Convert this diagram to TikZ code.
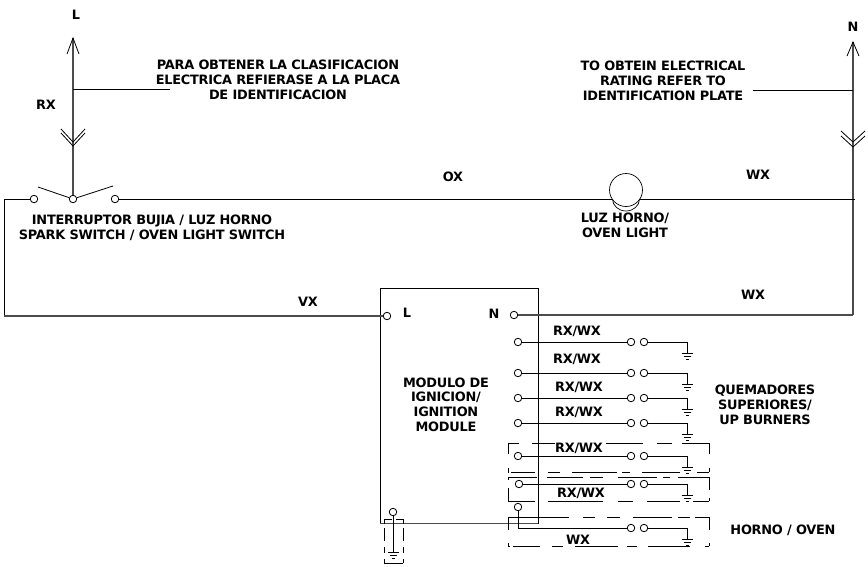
\documentclass[tikz,border=0pt]{standalone}
\usepackage{fontspec}
\setmainfont{DejaVu Sans}
\tikzset{
  etiqueta/.style={font=\bfseries\fontsize{12.9}{14.8}\selectfont\addfontfeatures{LetterSpace=-2},align=center,inner sep=0pt},
  borne/.style={shape=circle,draw=black,fill=white,line width=0.8pt,minimum size=7.5pt,inner sep=0pt},
  cable/.style={draw=black,line width=0.8pt},
  cablegrueso/.style={draw=black!70,line width=1.4pt},
  punteada/.style={draw=black,line width=0.7pt},
}
\newcommand{\tierra}[1]{\draw[cable] (#1) ++(-5.5,0) -- ++(11,0) (#1) ++(-3.5,3) -- ++(7,0) (#1) ++(-1.5,6) -- ++(3,0);}
\newcommand{\tramosH}[2]{\foreach \xa/\xb in {#2}{\draw[punteada] (\xa,#1) -- (\xb,#1);}}
\newcommand{\tramosV}[2]{\foreach \ya/\yb in {#2}{\draw[punteada] (#1,\ya) -- (#1,\yb);}}
\begin{document}
\begin{tikzpicture}[x=1pt,y=-1pt]
  \useasboundingbox (0,0) rectangle (868,566);

  % linea superior
  \node[borne] (contactoIzq) at (34,199) {};
  \node[borne] (contactoCentro) at (73,199) {};
  \node[borne] (contactoDer) at (115,199) {};
  \coordinate (puntaL) at (73,38);
  \coordinate (puntaN) at (853,42);
  \coordinate (esquinaIzqSup) at (4,199);
  \coordinate (esquinaIzqInf) at (4,316);
  \coordinate (esquinaDerSup) at (855,199);
  \coordinate (esquinaDerInf) at (853,315);
  \coordinate (lamparaIzq) at (612.5,199);
  \coordinate (lamparaDer) at (639.5,199);
  \node[shape=circle,draw=black,line width=0.7pt,minimum size=33pt,inner sep=0pt] (lampara) at (626,190) {};

  \node[etiqueta] (textoL) at (76,15) {L};
  \node[etiqueta] (textoN) at (853,27) {N};
  \node[etiqueta] (textoRX) at (46,105) {RX};
  \node[etiqueta] (textoOX) at (453,177) {OX};
  \node[etiqueta] (textoWXa) at (758,175) {WX};
  \node[etiqueta] (textoWXb) at (753,295) {WX};
  \node[etiqueta] (textoVX) at (308,302) {VX};
  \node[etiqueta] (placaES) at (278,80) {PARA OBTENER LA CLASIFICACION\\ELECTRICA REFIERASE A LA PLACA\\DE IDENTIFICACION};
  \node[etiqueta] (placaEN) at (663,81) {TO OBTEIN ELECTRICAL\\RATING REFER TO\\IDENTIFICATION PLATE};
  \node[etiqueta] (interruptor) at (152,227.5) {INTERRUPTOR BUJIA / LUZ HORNO\\SPARK SWITCH / OVEN LIGHT SWITCH};
  \node[etiqueta] (luzHorno) at (625,225) {LUZ HORNO/\\OVEN LIGHT};

  \path[cablegrueso] (puntaL) edge (contactoCentro);
  \path[cablegrueso] (puntaN) edge (esquinaDerInf);
  \draw[cable] (puntaL) ++(-6,16) -- (puntaL) -- ++(6,16);
  \draw[cable] (puntaN) ++(-6,14) -- (puntaN) -- ++(6,14);
  \draw[cable] (61,129) -- (73,142) -- (85,129) (61,133) -- (73,146) -- (85,133);
  \draw[cable] (841,131) -- (853,142) -- (865,131) (841,136) -- (853,147) -- (865,136);
  \draw[cable] (73,89) -- (170,89);
  \draw[cable] (753,90) -- (853,90);
  \draw[cable] (contactoCentro) -- (38,187);
  \draw[cable] (contactoCentro) -- (113,186);
  \draw[cable] (esquinaIzqInf) -- (esquinaIzqSup) -- (contactoIzq);
  \draw[cable] (contactoDer) -- (lamparaIzq);
  \draw[cable] (lamparaDer) -- (esquinaDerSup);
  \draw[draw=black,line width=0.7pt] (lamparaIzq) arc (180:0:13.5 and 12);

  % modulo
  \node[draw=black,line width=0.8pt,minimum width=158pt,minimum height=235pt,inner sep=0pt] (modulo) at (459,405.5) {};
  \node[etiqueta] (textoModulo) at (446,404.5) {MODULO DE\\IGNICION/\\IGNITION\\MODULE};
  \node[borne] (moduloL) at (387,316) {};
  \node[borne] (moduloN) at (514,315) {};
  \node[etiqueta] (textoModL) at (407,313) {L};
  \node[etiqueta] (textoModN) at (494,314) {N};
  \draw[cablegrueso] (esquinaIzqInf) -- (moduloL);
  \draw[cablegrueso] (moduloN) -- (esquinaDerInf);
  \draw[cablegrueso] (modulo.south west) -- (modulo.south east);

  % quemadores
  \foreach \nombre/\y/\xi in {a/342/518,b/373/518,c/398/518,d/423/518,e/456/518,f/484/519}{
    \node[borne] (entrada\nombre) at (\xi,\y) {};
    \node[borne] (chispa\nombre) at (631,\y) {};
    \node[borne] (salida\nombre) at (644,\y) {};
    \coordinate (codo\nombre) at (687,\y);
    \coordinate (tierra\nombre) at (687,\y+11);
    \draw[cable] (entrada\nombre) -- (chispa\nombre);
    \draw[cable] (salida\nombre) -- (codo\nombre) -- (tierra\nombre);
    \tierra{tierra\nombre}
  }
  \node[borne] (entradag) at (518,507) {};
  \node[borne] (chispag) at (631,528) {};
  \node[borne] (salidag) at (644,528) {};
  \coordinate (codog) at (687,528);
  \coordinate (tierrag) at (687,539);
  \draw[cable] (entradag) |- (chispag);
  \draw[cable] (salidag) -- (codog) -- (tierrag);
  \tierra{tierrag}

  \node[etiqueta] at (577,331) {RX/WX};
  \node[etiqueta] at (577,359) {RX/WX};
  \node[etiqueta] at (579,387) {RX/WX};
  \node[etiqueta] at (579,412) {RX/WX};
  \node[etiqueta] at (579,448) {RX/WX};
  \node[etiqueta] at (581,493) {RX/WX};
  \node[etiqueta] at (578,540) {WX};
  \node[etiqueta] (quemadores) at (765,404.5) {QUEMADORES\\SUPERIORES/\\UP BURNERS};
  \node[etiqueta] (horno) at (783,530) {HORNO / OVEN};

  % cajas punteadas
  \tramosH{443}{508/519,532/555,606/643,657/672,682/709}
  \tramosH{472}{508/509,511/535,548/560,572/617,622/630,642/680,697/709}
  \tramosV{508}{443/454,468/472}
  \tramosV{709}{443/454,468/472}
  \tramosH{477}{508/537,547/583,590/603,618/657,663/670,678/709}
  \tramosH{501}{508/535,548/603,618/633,647/680,693/709}
  \tramosV{508}{477/480,488/501}
  \tramosV{709}{477/490,498/501}
  \tramosH{517}{508/569,583/595,607/620,633/672,678/690,695/709}
  \tramosH{546}{508/510,513/540,552/563,575/618,627/637,648/690,705/709}
  \tramosV{508}{517/530,543/546}
  \tramosV{709}{517/530,543/546}

  % tierra del modulo
  \node[borne] (entradaTierra) at (393,512) {};
  \coordinate (tierraModulo) at (393,552);
  \draw[cable] (entradaTierra) -- (tierraModulo);
  \tierra{tierraModulo}
  \tramosH{519}{384/392,396/403}
  \tramosH{563}{384/403}
  \tramosV{384}{519/524,528/541,547/553,559/563}
  \tramosV{403}{519/524,528/541,547/553,559/563}
\end{tikzpicture}
\end{document}
